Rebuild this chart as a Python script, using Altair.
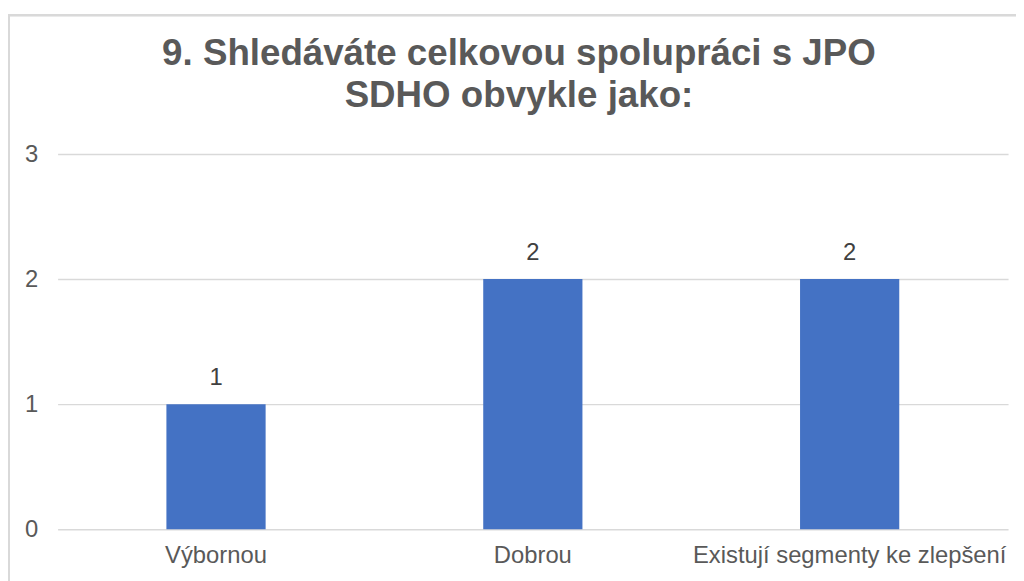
import altair as alt
import pandas as pd

categories = ["Výbornou", "Dobrou", "Existují segmenty ke zlepšení"]
values = [1, 2, 2]
title_lines = ["9. Shledáváte celkovou spolupráci s JPO", "SDHO obvykle jako:"]

df = pd.DataFrame({"kategorie": categories, "pocet": values})

FONT = "Liberation Sans"

x = alt.X("kategorie:N", sort=categories, title=None,
          scale=alt.Scale(paddingInner=0.684, paddingOuter=0.342),
          axis=alt.Axis(labelAngle=0, labelFontSize=24, labelColor="#595959",
                        labelFont=FONT, domain=False, ticks=False, labelPadding=15,
                        labelLimit=500, grid=False))
y = alt.Y("pocet:Q", title=None,
          scale=alt.Scale(domain=[0, 3]),
          axis=alt.Axis(values=[0, 1, 2, 3], format="d", labelFontSize=24,
                        labelColor="#595959", labelFont=FONT, domain=False,
                        ticks=False, labelPadding=20, gridColor="#d9d9d9",
                        gridWidth=1.5))

frame = alt.Chart(df).mark_rect(fillOpacity=0, stroke="#d9d9d9", strokeWidth=2).encode(
    x=alt.value(-49), x2=alt.value(1100), y=alt.value(-140), y2=alt.value(700)
)

bars = alt.Chart(df).mark_bar(color="#4472c4", size=100).encode(x=x, y=y)

labels = alt.Chart(df).mark_text(dy=-26, fontSize=24, color="#404040", font=FONT).encode(
    x=x, y=y, text=alt.Text("pocet:Q", format="d")
)

chart = alt.layer(frame, bars, labels).properties(
    width=958, height=378,
    autosize=alt.AutoSizeParams(type="none"),
    padding={"left": 50, "top": 145, "right": 8, "bottom": 50},
    background="white",
    title=alt.Title(title_lines, fontSize=37, font=FONT, fontWeight="bold",
                    color="#595959", anchor="middle", offset=-102, dx=-14,
                    lineHeight=43, frame="group"),
).configure_view(stroke=None)

chart.save("out.html", embed_options={"renderer": "svg", "actions": False})
